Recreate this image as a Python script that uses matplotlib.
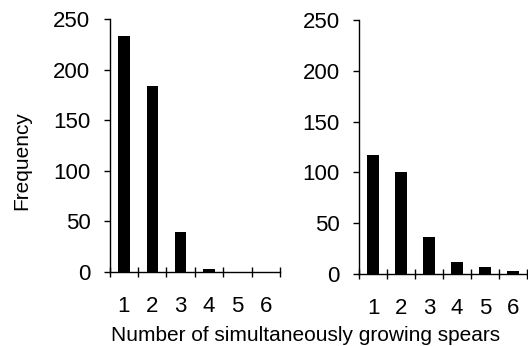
import matplotlib
matplotlib.use("Agg")
import matplotlib.pyplot as plt
import numpy as np

plt.rcParams['font.family'] = ['Liberation Sans', 'DejaVu Sans']

categories = ["1", "2", "3", "4", "5", "6"]
freq_left = [233, 184, 39, 3, 0, 0]
freq_right = [117, 100, 36, 12, 7, 3]

FS = 16


def draw_panel(ax, values):
    x = np.arange(len(categories))
    ax.bar(x, values, width=0.4, color="black")
    ax.set_xlim(-0.5, len(categories) - 0.5)
    ax.set_ylim(0, 250)
    ax.set_yticks([0, 50, 100, 150, 200, 250])
    # ticks sit on category boundaries, labels in the middle
    ax.set_xticks(np.arange(len(categories) + 1) - 0.5)
    ax.set_xticklabels([])
    ax.set_xticks(x, minor=True)
    ax.set_xticklabels(categories, minor=True)
    ax.tick_params(axis="x", which="major", direction="inout", length=7, width=1)
    ax.tick_params(axis="x", which="minor", length=0, pad=17, labelsize=FS)
    ax.tick_params(axis="y", direction="out", length=4, width=1, pad=10, labelsize=FS)
    for s in ["top", "right"]:
        ax.spines[s].set_visible(False)
    for s in ["left", "bottom"]:
        ax.spines[s].set_linewidth(1)


fig = plt.figure(figsize=(5.28, 3.46), dpi=100)
ax1 = fig.add_axes([0.208, 0.214, 0.322, 0.731])
ax2 = fig.add_axes([0.680, 0.208, 0.318, 0.734])

draw_panel(ax1, freq_left)
draw_panel(ax2, freq_right)

fig.text(0.042, 0.535, "Frequency", rotation=90, ha="center", va="center", fontsize=15)
fig.text(0.578, 0.015, "Number of simultaneously growing spears",
         ha="center", va="baseline", fontsize=15)

fig.savefig("out.png", dpi=100)
